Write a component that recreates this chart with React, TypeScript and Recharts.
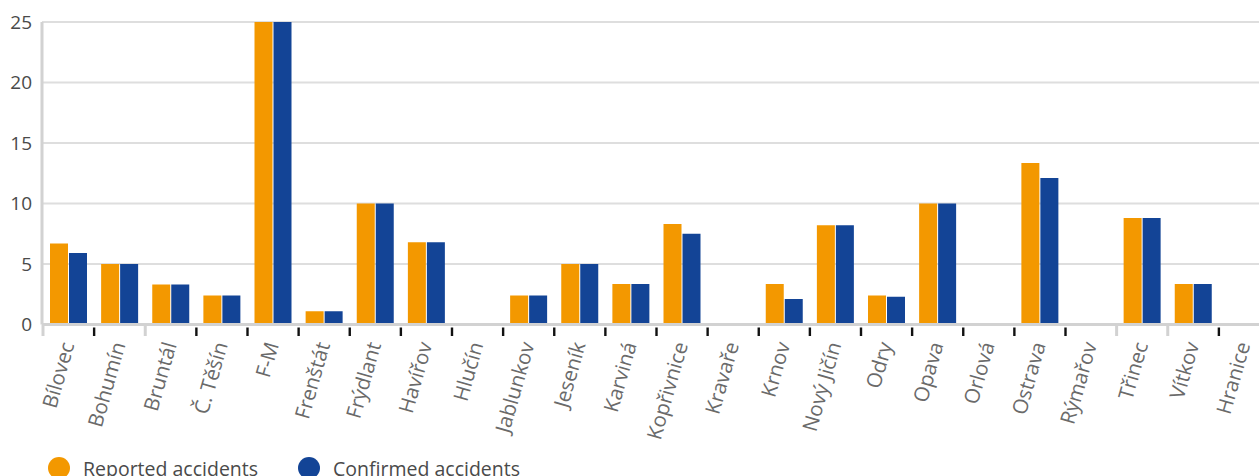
import { Bar, BarChart, CartesianGrid, Legend, XAxis, YAxis } from 'recharts';

const TOWNS = [
  'Bílovec', 'Bohumín', 'Bruntál', 'Č. Těšín', 'F-M', 'Frenštát', 'Frýdlant', 'Havířov',
  'Hlučín', 'Jablunkov', 'Jeseník', 'Karviná', 'Kopřivnice', 'Kravaře', 'Krnov', 'Nový Jičín',
  'Odry', 'Opava', 'Orlová', 'Ostrava', 'Rýmařov', 'Třinec', 'Vítkov', 'Hranice',
];
const REPORTED = [6.7, 5, 3.3, 2.4, 25, 1.1, 10, 6.8, 0, 2.4, 5, 3.35, 8.3, 0, 3.35, 8.2, 2.4, 10, 0, 13.35, 0, 8.8, 3.35, 0];
const CONFIRMED = [5.9, 5, 3.3, 2.4, 25, 1.1, 10, 6.8, 0, 2.4, 5, 3.35, 7.5, 0, 2.1, 8.2, 2.3, 10, 0, 12.1, 0, 8.8, 3.35, 0];
const Y_TICKS = [0, 5, 10, 15, 20, 25];

const SERIES = [
  { key: 'reported', label: 'Reported accidents', color: '#f39800' },
  { key: 'confirmed', label: 'Confirmed accidents', color: '#134496' },
];

// boundary ticks that show up light grey instead of black in the original
const GREY_BOUNDARIES = new Set([0, 2, 21, 22]);

const data = TOWNS.map((town, i) => ({
  town,
  reported: REPORTED[i],
  confirmed: CONFIRMED[i],
}));

function TownTick(props: any) {
  const { x, y, payload, index } = props;
  const half = payload?.offset ?? 25.55;
  const marks = [index + 1];
  if (index === 0) marks.unshift(0);
  return (
    <g>
      {marks.map((b) => {
        const bx = b === index ? x - half : x + half;
        const grey = GREY_BOUNDARIES.has(b);
        return (
          <line
            key={b}
            x1={bx}
            x2={bx}
            y1={grey ? y : y + 3}
            y2={y + 11.5}
            stroke={grey ? '#d2d2d2' : '#111'}
            strokeWidth={grey ? 3 : 2.4}
          />
        );
      })}
      <text
        x={0}
        y={0}
        transform={`translate(${x + 6},${y + 20}) rotate(-74)`}
        textAnchor="end"
        fontSize={20.5}
        fill="#6a6a6a"
      >
        {payload.value}
      </text>
    </g>
  );
}

function LegendBox() {
  return (
    <div style={{ display: 'flex', alignItems: 'center', height: 40, paddingLeft: 48 }}>
      {SERIES.map((s) => (
        <div key={s.key} style={{ display: 'flex', alignItems: 'center', marginRight: 40 }}>
          <span
            style={{
              display: 'inline-block',
              width: 22,
              height: 22,
              borderRadius: '50%',
              backgroundColor: s.color,
              marginRight: 13,
            }}
          />
          <span style={{ fontSize: 19.5, color: '#4a4a4a' }}>{s.label}</span>
        </div>
      ))}
    </div>
  );
}

export default function App() {
  return (
    <div
      style={{
        position: 'absolute',
        left: 0,
        top: 0,
        width: 1259,
        height: 476,
        overflow: 'hidden',
        background: '#fff',
        fontFamily: '"Open Sans", sans-serif',
      }}
    >
      <BarChart
        width={1270}
        height={488}
        data={data}
        margin={{ top: 22, right: 0, bottom: 0, left: 0 }}
        barSize={18}
        barGap={1}
      >
        <CartesianGrid vertical={false} stroke="#dedede" strokeWidth={2} />
        <XAxis
          dataKey="town"
          interval={0}
          height={123.5}
          padding={{ left: 1, right: 0 }}
          axisLine={{ stroke: '#d2d2d2', strokeWidth: 3 }}
          tickLine={false}
          tickSize={0}
          tickMargin={0}
          tick={<TownTick />}
        />
        <YAxis
          width={42}
          domain={[0, 25]}
          ticks={Y_TICKS}
          allowDataOverflow
          axisLine={{ stroke: '#d2d2d2', strokeWidth: 3 }}
          tickLine={false}
          tickSize={0}
          tickMargin={10}
          tick={{ fontSize: 19, fill: '#4a4a4a' }}
        />
        <Legend verticalAlign="bottom" align="left" height={40} content={() => <LegendBox />} />
        {SERIES.map((s) => (
          <Bar key={s.key} dataKey={s.key} name={s.label} fill={s.color} isAnimationActive={false} />
        ))}
      </BarChart>
    </div>
  );
}
